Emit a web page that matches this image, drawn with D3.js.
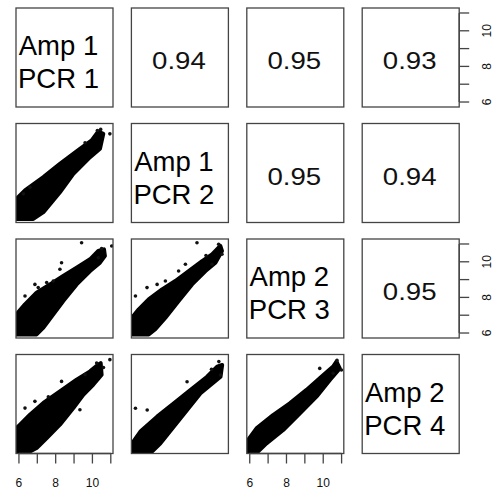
<!DOCTYPE html>
<html>
<head>
<meta charset="utf-8">
<script src="https://cdn.jsdelivr.net/npm/d3@7"></script>
<style>
  body { margin: 0; background: #fff; }
  svg { display: block; font-family: "Liberation Sans", Arial, sans-serif; }
</style>
</head>
<body>
<svg id="pairs" width="493" height="489"></svg>
<script>
// variable names on the diagonal
var labels = [["Amp 1", "PCR 1"], ["Amp 1", "PCR 2"], ["Amp 2", "PCR 3"], ["Amp 2", "PCR 4"]];

// correlations in the upper panels
var corrs = [
  {"row": 0, "col": 1, "r": "0.94"},
  {"row": 0, "col": 2, "r": "0.95"},
  {"row": 0, "col": 3, "r": "0.93"},
  {"row": 1, "col": 2, "r": "0.95"},
  {"row": 1, "col": 3, "r": "0.94"},
  {"row": 2, "col": 3, "r": "0.95"}
];

// axis ticks and labels
var tickValues = [6, 7, 8, 9, 10, 11];
var tickLabels = [6, 8, 10];

// outline of the dense point cloud in each lower panel (data units)
var cloud10 = [[5.87,5.92],[5.87,7.05],[6.33,7.52],[7.33,8.27],[8.23,9.01],[9.32,9.86],[9.96,10.33],[10.32,10.83],[10.59,10.70],[10.41,9.86],[9.87,9.39],[8.96,8.45],[8.23,7.42],[7.33,6.30],[6.78,5.92]];
var cloud20 = [[5.87,5.92],[5.87,7.05],[6.33,7.61],[6.96,8.27],[7.69,8.73],[8.41,9.20],[9.14,9.67],[9.87,10.14],[10.32,10.61],[10.63,10.70],[10.68,10.33],[10.41,9.95],[9.87,9.48],[9.14,8.73],[8.41,7.80],[7.87,7.05],[7.33,6.30],[6.96,5.92]];
var cloud21 = [[5.87,5.92],[5.87,6.86],[6.24,7.33],[6.78,7.89],[7.51,8.45],[8.23,8.92],[8.96,9.48],[9.69,10.04],[10.23,10.42],[10.68,10.89],[10.77,10.61],[10.41,9.95],[9.87,9.48],[9.14,8.73],[8.41,7.80],[7.69,6.86],[7.14,6.21],[6.78,5.92]];
var cloud30 = [[5.87,5.84],[5.87,7.15],[6.06,7.34],[6.60,7.90],[7.33,8.56],[8.23,9.21],[9.14,9.87],[9.87,10.33],[10.32,10.71],[10.45,10.80],[10.50,10.15],[10.05,9.59],[9.50,9.02],[8.96,8.27],[8.23,7.34],[7.51,6.59],[6.96,6.03],[6.60,5.84]];
var cloud31 = [[5.88,5.75],[5.88,6.29],[6.33,6.95],[7.24,7.79],[8.15,8.54],[9.05,9.29],[9.96,10.03],[10.51,10.60],[10.78,10.69],[10.69,10.03],[9.60,9.10],[8.87,8.16],[8.15,7.23],[7.42,6.29],[6.88,5.75]];
var cloud32 = [[5.91,5.75],[5.91,6.48],[6.37,7.13],[7.27,7.88],[8.18,8.54],[9.09,9.29],[9.81,9.94],[10.54,10.60],[10.72,10.88],[10.90,10.50],[10.36,9.85],[9.63,8.91],[8.73,7.97],[7.82,7.04],[6.91,6.29],[6.37,5.75]];

// isolated points outside the cloud
var out10 = [[10.95,10.70],[10.27,10.89],[6.24,7.33],[10.45,10.95],[9.6,10.2],[6.6,7.7]];
var out20 = [[9.41,11.07],[11.05,10.89],[8.32,9.95],[8.23,9.58],[6.87,8.73],[7.51,8.83],[6.33,8.08],[7.05,8.55],[7.87,8.92],[10.32,10.23],[10.5,10.75]];
var out21 = [[9.41,11.07],[6.06,8.08],[6.69,8.55],[7.24,8.73],[7.69,8.92],[8.41,9.48],[8.78,9.86],[10.59,10.98],[10.77,10.42],[10.23,9.86],[9.9,10.35]];
var out30 = [[10.95,10.99],[8.32,9.77],[6.33,8.27],[6.87,8.65],[9.32,8.18],[9.60,10.15],[10.23,10.80],[10.6,10.55],[7.6,8.9]];
var out31 = [[6.06,8.26],[6.70,8.16],[8.87,9.75],[10.69,10.13],[10.60,10.88],[10.2,10.45]];
var out32 = [[10.99,10.41],[10.54,10.22],[9.81,10.50],[10.75,10.95]];

var scatters = [
  {"row": 1, "col": 0, "cloud": cloud10, "pts": out10},
  {"row": 2, "col": 0, "cloud": cloud20, "pts": out20},
  {"row": 2, "col": 1, "cloud": cloud21, "pts": out21},
  {"row": 3, "col": 0, "cloud": cloud30, "pts": out30},
  {"row": 3, "col": 1, "cloud": cloud31, "pts": out31},
  {"row": 3, "col": 2, "cloud": cloud32, "pts": out32}
];

var svg = d3.select("svg#pairs");

// panel geometry
var pw = 97, ph = 99;
var panelLeft = function(c) { return 16 + c * 115.4; };
var panelTop = function(r) { return 8 + r * 115.5; };

var x = d3.scaleLinear().domain([5.84, 11.12]).range([0, pw]);
var y = d3.scaleLinear().domain([5.72, 11.28]).range([ph, 0]);

var cells = [];
for (var r = 0; r < 4; r++) {
  for (var c = 0; c < 4; c++) cells.push({"row": r, "col": c});
}

// scatter clouds
var line = d3.line()
             .x(function(d) { return x(d[0]); })
             .y(function(d) { return y(d[1]); })
             .curve(d3.curveLinearClosed);

svg.append("defs").append("clipPath")
   .attr("id", "clip")
   .append("rect")
   .attr("width", pw).attr("height", ph);

var sc = svg.selectAll("g.scatter")
            .data(scatters)
            .enter().append("g")
            .attr("class", "scatter")
            .attr("clip-path", "url(#clip)")
            .attr("transform", function(d) { return "translate(" + panelLeft(d.col) + "," + panelTop(d.row) + ")"; });

sc.append("path")
  .attr("d", function(d) { return line(d.cloud); })
  .attr("fill", "#000")
  .attr("stroke", "#000")
  .attr("stroke-width", 4)
  .attr("stroke-linejoin", "round");

sc.selectAll("circle")
  .data(function(d) { return d.pts; })
  .enter().append("circle")
  .attr("cx", function(d) { return x(d[0]); })
  .attr("cy", function(d) { return y(d[1]); })
  .attr("r", 1.8)
  .attr("fill", "#111");

// panel boxes
svg.selectAll("rect.box")
   .data(cells)
   .enter().append("rect")
   .attr("class", "box")
   .attr("x", function(d) { return panelLeft(d.col); })
   .attr("y", function(d) { return panelTop(d.row); })
   .attr("width", pw)
   .attr("height", ph)
   .attr("fill", "none")
   .attr("stroke", "#444")
   .attr("stroke-width", 1.3);

// diagonal labels
var diag = svg.selectAll("text.diag")
              .data(labels)
              .enter().append("text")
              .attr("class", "diag")
              .attr("text-anchor", "middle")
              .attr("font-size", 27.5)
              .attr("fill", "#000");

diag.append("tspan")
    .attr("x", function(d, i) { return panelLeft(i) + pw / 2 - 6; })
    .attr("y", function(d, i) { return panelTop(i) + 47; })
    .text(function(d) { return d[0]; });

diag.append("tspan")
    .attr("x", function(d, i) { return panelLeft(i) + pw / 2 - 6; })
    .attr("y", function(d, i) { return panelTop(i) + 80; })
    .text(function(d) { return d[1]; });

// correlation values
svg.selectAll("text.corr")
   .data(corrs)
   .enter().append("text")
   .attr("class", "corr")
   .attr("text-anchor", "middle")
   .attr("font-size", 24)
   .attr("fill", "#111")
   .attr("transform", function(d) {
      return "translate(" + (panelLeft(d.col) + pw / 2 - 1) + "," + (panelTop(d.row) + 61) + ") scale(1.15,1)";
   })
   .text(function(d) { return d.r; });

// bottom axes on columns 1 and 3
[0, 2].forEach(function(c) {
  var g = svg.append("g")
             .attr("transform", "translate(" + panelLeft(c) + "," + (panelTop(3) + ph) + ")");
  g.append("line")
   .attr("x1", x(tickValues[0])).attr("x2", x(tickValues[tickValues.length - 1]))
   .attr("y1", 0).attr("y2", 0)
   .attr("stroke", "#444").attr("stroke-width", 1.3);
  g.selectAll("line.tick")
   .data(tickValues)
   .enter().append("line")
   .attr("x1", function(d) { return x(d); })
   .attr("x2", function(d) { return x(d); })
   .attr("y1", 0).attr("y2", 10)
   .attr("stroke", "#444").attr("stroke-width", 1.3);
  g.selectAll("text")
   .data(tickLabels)
   .enter().append("text")
   .attr("x", function(d) { return x(d); })
   .attr("y", 33)
   .attr("text-anchor", "middle")
   .attr("font-size", 12)
   .attr("fill", "#111")
   .text(function(d) { return d; });
});

// right axes on rows 1 and 3
[0, 2].forEach(function(r) {
  var g = svg.append("g")
             .attr("transform", "translate(" + (panelLeft(3) + pw) + "," + panelTop(r) + ")");
  g.append("line")
   .attr("x1", 0).attr("x2", 0)
   .attr("y1", y(tickValues[0])).attr("y2", y(tickValues[tickValues.length - 1]))
   .attr("stroke", "#444").attr("stroke-width", 1.3);
  g.selectAll("line.tick")
   .data(tickValues)
   .enter().append("line")
   .attr("x1", 0).attr("x2", 10)
   .attr("y1", function(d) { return y(d); })
   .attr("y2", function(d) { return y(d); })
   .attr("stroke", "#444").attr("stroke-width", 1.3);
  g.selectAll("text")
   .data(tickLabels)
   .enter().append("text")
   .attr("transform", function(d) { return "translate(32," + y(d) + ") rotate(-90)"; })
   .attr("text-anchor", "middle")
   .attr("font-size", 12)
   .attr("fill", "#111")
   .text(function(d) { return d; });
});
</script>
</body>
</html>
